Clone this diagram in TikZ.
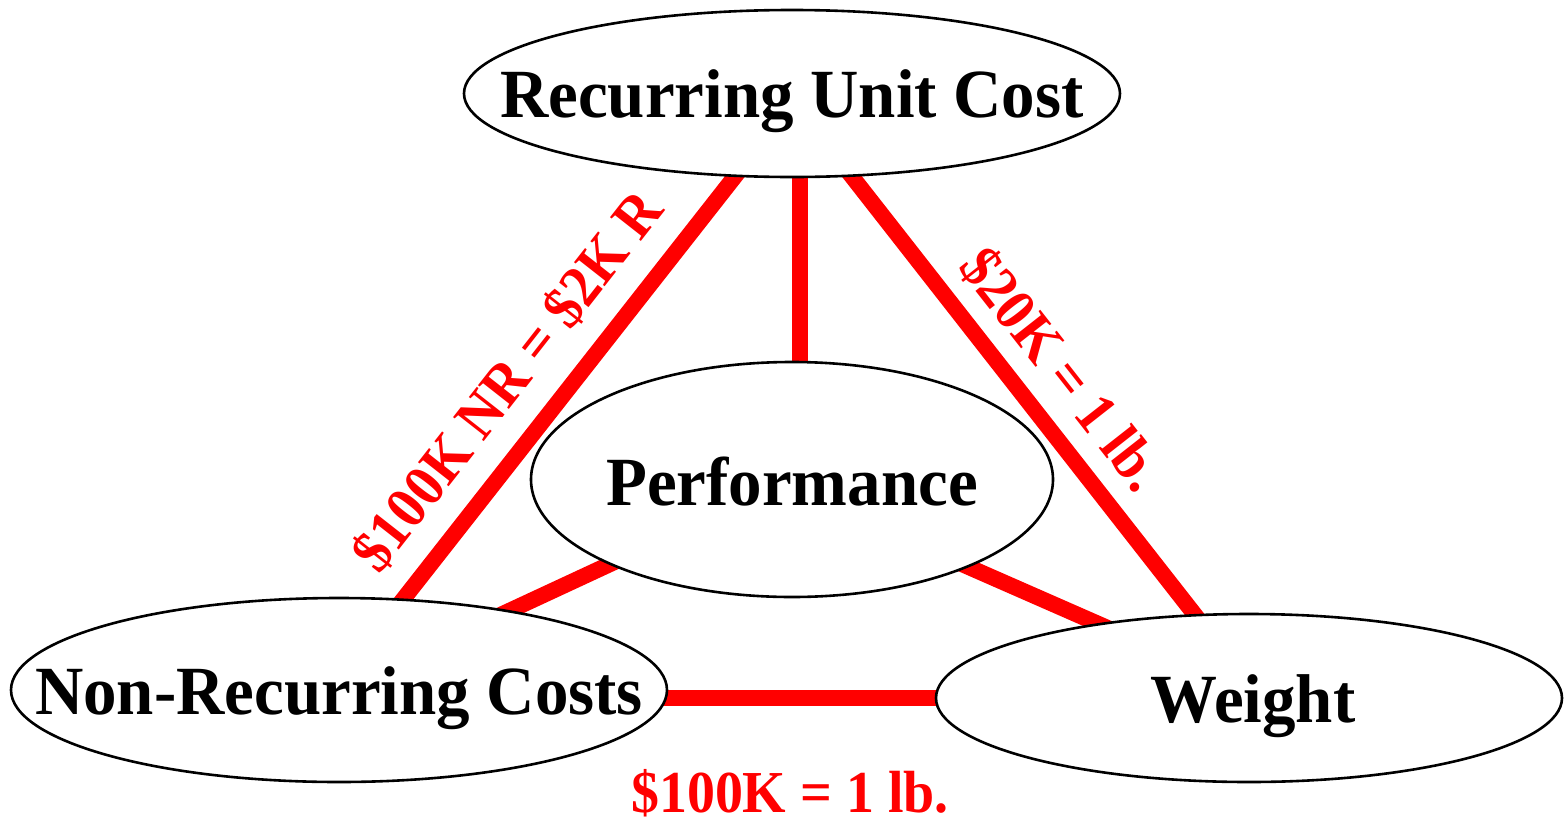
\documentclass[tikz,border=0pt]{standalone}
\usepackage{fontspec}
\setmainfont{Liberation Serif}
\newfontfamily\boxfont{Liberation Serif}[FakeStretch=0.97]
\newfontfamily\ratefont{Liberation Serif}[FakeStretch=0.94]
\usetikzlibrary{shapes.geometric,backgrounds}
\definecolor{linkred}{RGB}{255,0,0}

\begin{document}
\begin{tikzpicture}[x=1pt,y=-1pt,
  oval/.style={ellipse, draw=black, line width=2.6pt, fill=white, inner sep=0pt},
  title/.style={font=\boxfont\bfseries\fontsize{69}{69}\selectfont,
    text height=45.2pt, text depth=0pt, inner sep=0pt},
  rate/.style={font=\ratefont\bfseries\fontsize{59.5}{59.5}\selectfont,
    text=linkred, text height=39pt, text depth=0pt, inner sep=0pt},
  link/.style={draw=linkred, line width=16pt}]

\useasboundingbox (0,0) rectangle (1564,817);

% the four trade-off areas
\node[oval, minimum width=656pt, minimum height=167pt] (ruc)  at (792,93.5)  {};
\node[oval, minimum width=522pt, minimum height=235pt] (perf) at (792,479.5) {};
\node[oval, minimum width=656pt, minimum height=184pt] (nrc)  at (339,690)   {};
\node[oval, minimum width=626pt, minimum height=168pt] (wt)   at (1249,698)  {};

\node[title, yshift=-1.5pt] (ruct)  at (ruc)  {Recurring Unit Cost};
\node[title, yshift=-3pt]   (perft) at (perf) {Performance};
\node[title, yshift=-1.5pt] (nrct)  at (nrc)  {Non-Recurring Costs};
\node[title, xshift=4pt, yshift=-2pt] (wtt) at (wt) {Weight};

% exchange-rate links, kept under the ovals
\begin{scope}[on background layer]
  \draw[link] ([xshift=8pt]ruc.center)  -- ([xshift=-7pt]nrc.center);
  \draw[link] ([xshift=8pt]ruc.center)  -- ([xshift=8pt]perf.center);
  \draw[link] ([xshift=-5pt]ruc.center) -- ([xshift=11pt]wt.center);
  \draw[link] (perf.center) -- (nrc.center);
  \draw[link] ([yshift=-10pt]perf.center) -- ([yshift=8pt]wt.center);
  \draw[link] (nrc.center |- wt.center) -- (wt.center);
\end{scope}

% exchange rates
\node[rate, rotate=51.9]  (ratenr) at (507,381)   {\$100K NR = \$2K R};
\node[rate, rotate=-51.9] (ratewt) at (1062,369)  {\$20K = 1 lb.};
\node[rate]               (ratenw) at (790,792.5) {\$100K = 1 lb.};
\end{tikzpicture}
\end{document}
